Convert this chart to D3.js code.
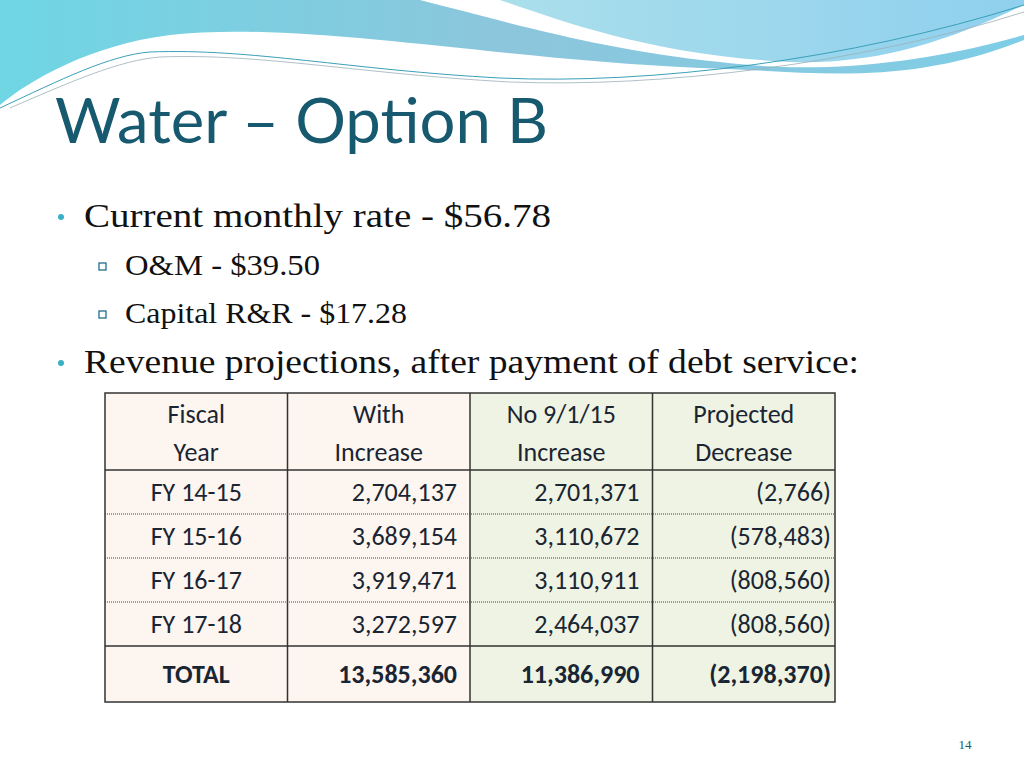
<!DOCTYPE html>
<html><head><meta charset="utf-8">
<script src="https://cdn.jsdelivr.net/npm/d3@7"></script>
<style>body{margin:0;background:#fff;}svg{display:block;}</style>
</head><body><div id="chart"></div>
<script>
const headers = [["Fiscal", "Year"], ["With", "Increase"], ["No 9/1/15", "Increase"], ["Projected", "Decrease"]];
const years = ["FY 14-15", "FY 15-16", "FY 16-17", "FY 17-18"];
const withIncrease = [2704137, 3689154, 3919471, 3272597];
const noIncrease = [2701371, 3110672, 3110911, 2464037];
const decrease = [-2766, -578483, -808560, -808560];
const totals = ["TOTAL", 13585360, 11386990, -2198370];

const fmt = d3.format(",");
const fmtNeg = v => v < 0 ? "(" + fmt(-v) + ")" : fmt(v);

const svg = d3.select("#chart").append("svg").attr("width", 1024).attr("height", 768);

// background waves
const defs = svg.append("defs");
const g1 = defs.append("linearGradient").attr("id", "wv1").attr("x1", 0).attr("x2", 1);
g1.append("stop").attr("offset", 0).attr("stop-color", "#6fd6e4");
g1.append("stop").attr("offset", 0.5).attr("stop-color", "#8cc6dc");
g1.append("stop").attr("offset", 1).attr("stop-color", "#7fcde6");
const g2 = defs.append("linearGradient").attr("id", "wv2").attr("x1", 0).attr("x2", 1);
g2.append("stop").attr("offset", 0).attr("stop-color", "#b8e6ea");
g2.append("stop").attr("offset", 1).attr("stop-color", "#8fd0ee");
svg.append("path").attr("fill", "url(#wv1)")
  .attr("d", "M0,0 H1024 V40 C900,90 800,70 700,68 C500,60 300,20 170,35 C90,45 30,80 0,105 Z");
svg.append("path").attr("fill", "#fff")
  .attr("d", "M230,0 H1024 V35 C900,70 800,72 720,62 C600,50 500,20 420,0 Z");
svg.append("path").attr("fill", "url(#wv2)")
  .attr("d", "M245,0 H1024 V5 C950,40 880,65 790,62 C650,55 560,20 500,0 Z");
svg.append("path").attr("fill", "none").attr("stroke", "#3aa0b8").attr("stroke-width", 1)
  .attr("d", "M0,108 C60,80 110,55 150,52 C250,48 350,70 500,78 C650,85 850,60 1024,5");
svg.append("path").attr("fill", "none").attr("stroke", "#9bb0b8").attr("stroke-width", 0.8)
  .attr("d", "M10,108 C70,82 120,60 160,57 C260,53 360,74 510,82 C660,88 860,64 1024,12");

svg.append("text").attr("x", 55).attr("y", 143).attr("fill", "#17596e")
  .attr("textLength", 493).attr("lengthAdjust", "spacingAndGlyphs")
  .style("font-family", "Lato, 'Open Sans', sans-serif").style("font-size", "62px").text("Water – Option B");

const serif = "'Liberation Serif', 'DejaVu Serif', serif";
const bullets = [
  { lvl: 0, y: 227, w: 467, t: "Current monthly rate - $56.78" },
  { lvl: 1, y: 275, w: 195, t: "O&M - $39.50" },
  { lvl: 1, y: 323, w: 282, t: "Capital R&R - $17.28" },
  { lvl: 0, y: 373, w: 775, t: "Revenue projections, after payment of debt service:" }
];
bullets.forEach(b => {
  if (b.lvl === 0) {
    svg.append("circle").attr("cx", 61).attr("cy", b.y - 10).attr("r", 3).attr("fill", "#3ab0c8");
    svg.append("text").attr("x", 84).attr("y", b.y).attr("fill", "#111")
      .attr("textLength", b.w).attr("lengthAdjust", "spacingAndGlyphs")
      .style("font-family", serif).style("font-size", "33px").text(b.t);
  } else {
    svg.append("rect").attr("x", 99).attr("y", b.y - 12).attr("width", 7).attr("height", 7)
      .attr("fill", "none").attr("stroke", "#1f6e86").attr("stroke-width", 1.3);
    svg.append("text").attr("x", 125).attr("y", b.y).attr("fill", "#111")
      .attr("textLength", b.w).attr("lengthAdjust", "spacingAndGlyphs")
      .style("font-family", serif).style("font-size", "29px").text(b.t);
  }
});

// table
const cols = d3.scaleBand().domain(d3.range(4)).range([105, 835]);
const rowEdges = [393, 470, 514, 558, 602, 646, 702];
const rowTop = i => rowEdges[i], rowH = i => rowEdges[i + 1] - rowEdges[i];
const tbl = svg.append("g").style("font-family", "Carlito, Calibri, 'Open Sans', sans-serif");

d3.range(4).forEach(c => {
  tbl.append("rect").attr("x", cols(c)).attr("y", rowEdges[0]).attr("width", cols.bandwidth())
    .attr("height", rowEdges[6] - rowEdges[0]).attr("fill", c < 2 ? "#fdf5ef" : "#eef3e3");
});

const tc = "#1a2533";
headers.forEach((h, c) => {
  h.forEach((line, k) => {
    tbl.append("text").attr("x", cols(c) + cols.bandwidth() / 2).attr("y", 423 + k * 38)
      .attr("text-anchor", "middle").attr("fill", tc).style("font-size", "26px").text(line);
  });
});

const body = years.map((y, i) => [y, withIncrease[i], noIncrease[i], decrease[i]]).concat([totals]);
body.forEach((row, r) => {
  const i = r + 1;
  const yy = rowTop(i) + rowH(i) / 2 + 9;
  row.forEach((v, c) => {
    const t = tbl.append("text").attr("y", yy).attr("fill", tc).style("font-size", "26px")
      .style("font-weight", r === 4 ? "bold" : "normal");
    if (c === 0) t.attr("x", cols(0) + cols.bandwidth() / 2).attr("text-anchor", "middle").text(v);
    else if (c === 3) t.attr("x", cols(c) + cols.bandwidth() - 4).attr("text-anchor", "end").text(fmtNeg(v));
    else t.attr("x", cols(c) + cols.bandwidth() - 13).attr("text-anchor", "end").text(fmt(v));
  });
});

// grid lines
[2, 3, 4].forEach(i => tbl.append("line").attr("x1", 105).attr("x2", 835)
  .attr("y1", rowEdges[i]).attr("y2", rowEdges[i]).attr("stroke", "#444").attr("stroke-dasharray", "1,1"));
[1, 5].forEach(i => tbl.append("line").attr("x1", 105).attr("x2", 835)
  .attr("y1", rowEdges[i]).attr("y2", rowEdges[i]).attr("stroke", "#333").attr("stroke-width", 1.5));
d3.range(1, 4).forEach(c => tbl.append("line").attr("x1", cols(c)).attr("x2", cols(c))
  .attr("y1", rowEdges[0]).attr("y2", rowEdges[6]).attr("stroke", "#333").attr("stroke-width", 1.5));
tbl.append("rect").attr("x", 105).attr("y", rowEdges[0]).attr("width", 730)
  .attr("height", rowEdges[6] - rowEdges[0]).attr("fill", "none").attr("stroke", "#333").attr("stroke-width", 1.5);

svg.append("text").attr("x", 965).attr("y", 749).attr("text-anchor", "middle").attr("fill", "#17596e")
  .style("font-family", serif).style("font-size", "13px").text("14");
</script></body></html>
